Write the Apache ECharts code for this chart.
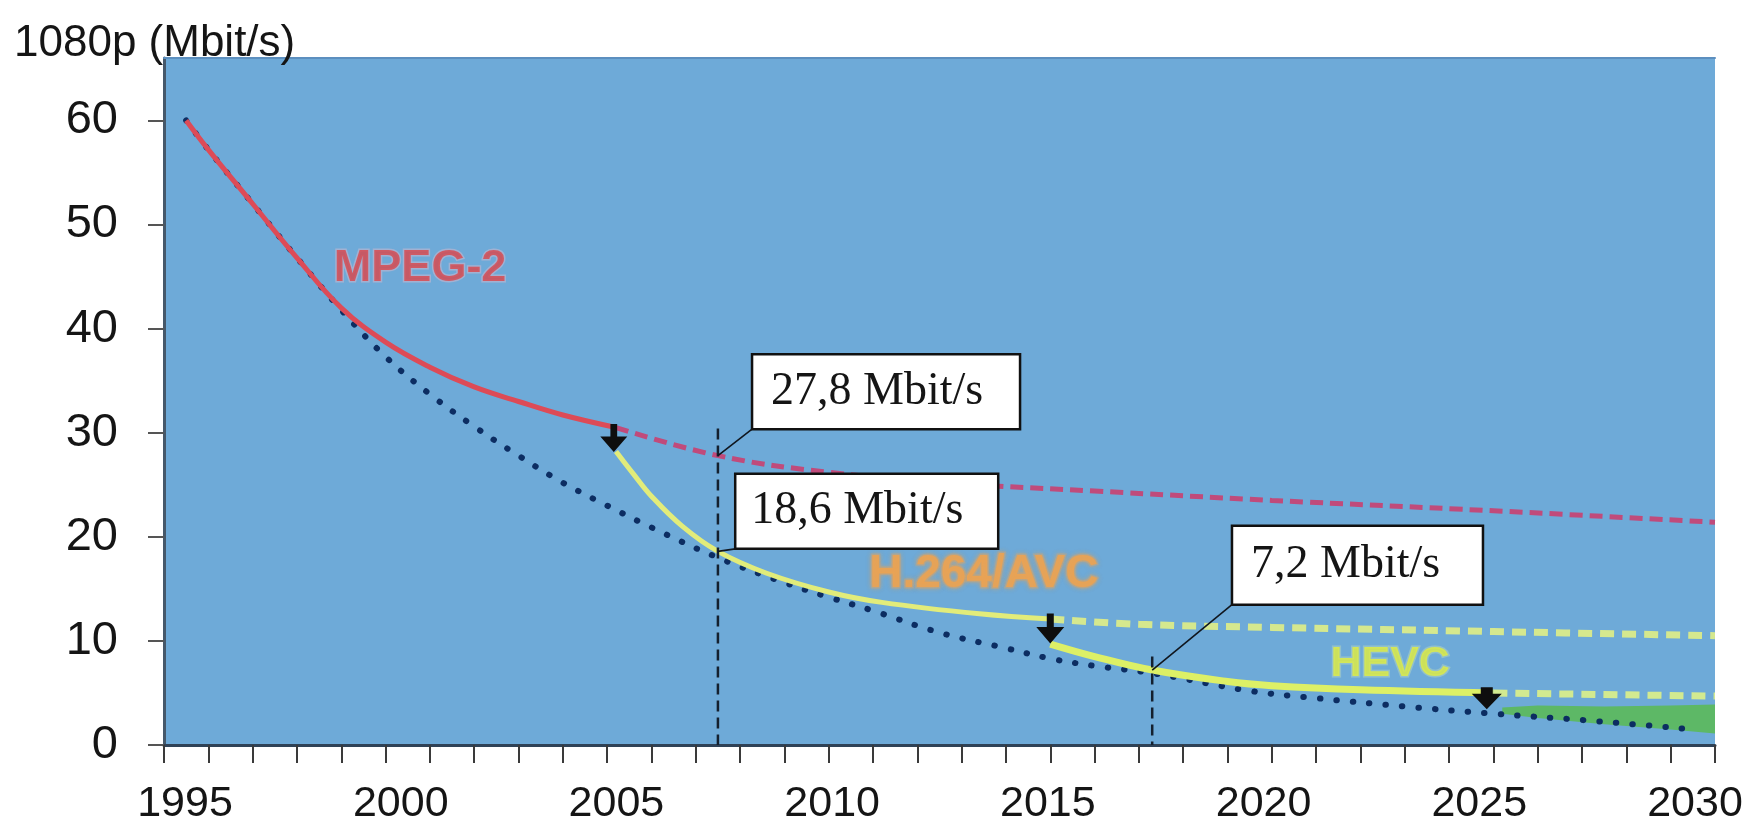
<!DOCTYPE html>
<html>
<head>
<meta charset="utf-8">
<script src="https://cdn.jsdelivr.net/npm/echarts@6/dist/echarts.min.js"></script>
<style>
  html, body { margin: 0; padding: 0; background: #ffffff; }
  #chart { width: 1748px; height: 826px; }
</style>
</head>
<body>
<div id="chart"></div>
<script>
// ---- Bitrate needed for 1080p video, Mbit/s ----
const yTicks = [0, 10, 20, 30, 40, 50, 60];
const xTicks = [1995, 2000, 2005, 2010, 2015, 2020, 2025, 2030];

// MPEG-2: measured part and its extrapolation
const mpeg2Years = [1995.5, 1996, 1997, 1998, 1999, 2000, 2001, 2002, 2003, 2004, 2005.2];
const mpeg2Rate  = [60.0, 57.2, 52.0, 46.8, 42.0, 38.7, 36.3, 34.4, 33.0, 31.7, 30.5];
const mpeg2FutureYears = [2005.2, 2007.5, 2010, 2013, 2016, 2020, 2025, 2030];
const mpeg2FutureRate  = [30.5, 27.8, 26.2, 25.1, 24.4, 23.5, 22.5, 21.4];

// H.264/AVC
const avcYears = [2005.2, 2005.6, 2006, 2006.7, 2007.5, 2008.6, 2010, 2011.2, 2013.4, 2015];
const avcRate  = [28.2, 26.0, 23.9, 21.0, 18.6, 16.5, 14.7, 13.7, 12.6, 12.1];
const avcFutureYears = [2015, 2017, 2020, 2025, 2030];
const avcFutureRate  = [12.1, 11.6, 11.3, 10.9, 10.5];

// HEVC
const hevcYears = [2015, 2016, 2017.3, 2019, 2020, 2022, 2025];
const hevcRate  = [9.7, 8.5, 7.2, 6.1, 5.7, 5.3, 5.0];
const hevcFutureYears = [2025, 2030];
const hevcFutureRate  = [5.0, 4.7];

// next generation band (lower and upper edge)
const nextYears = [2025.2, 2026, 2027.5, 2029, 2030];
const nextLow   = [3.0, 2.6, 2.0, 1.5, 1.1];
const nextHigh  = [3.6, 3.8, 3.7, 3.8, 3.9];

// overall efficiency trend (dotted)
const trendYears = [1995.5, 1996, 1997, 1998, 1999, 2000, 2001, 2002, 2003, 2004, 2005, 2006,
                    2007.5, 2009, 2010, 2011, 2012.5, 2014, 2015, 2016, 2017.3, 2019.5, 2021,
                    2023, 2025, 2027, 2029.5];
const trendRate  = [60.0, 57.2, 52.0, 46.8, 41.8, 37.3, 33.7, 30.6, 27.8, 25.2, 23.0, 20.9,
                    18.0, 15.6, 14.2, 12.9, 10.8, 9.3, 8.3, 7.6, 6.9, 5.2, 4.5,
                    3.7, 3.0, 2.4, 1.5];

// codec switch-over arrows
const arrowYears = [2005.15, 2015.0, 2024.85];
const arrowRate  = [29.5, 11.2, 4.5];

// vertical guides
const guideYears = [2007.5, 2017.3];
const guideTop   = [30.4, 8.5];

// callouts
const calloutYears  = [2007.5, 2007.5, 2017.3];
const calloutRate   = [27.8, 18.6, 7.2];
const calloutTexts  = ['27,8 Mbit/s', '18,6 Mbit/s', '7,2 Mbit/s'];

// codec names
const codecNames = ['MPEG-2', 'H.264/AVC', 'HEVC'];

// ---- layout / styling ----
const SANS = '"Liberation Sans", Arial, sans-serif';
const SERIF = '"Liberation Serif", "Times New Roman", serif';
const calloutBoxes = [
  { year: 2008.27, value: 37.55, w: 268, h: 75, pad: 19 },
  { year: 2007.89, value: 26.05, w: 263, h: 75, pad: 16 },
  { year: 2019.10, value: 21.07, w: 251, h: 79, pad: 19 }
];
const codecLabelPos = [
  { year: 2000.78, value: 45.8, color: '#DC4549', size: 45, border: 'rgba(255,190,200,0.45)', blur: 0 },
  { year: 2013.50, value: 16.4, color: '#F0A24E', size: 46, border: 'rgba(240,170,90,0.35)', blur: 5 },
  { year: 2022.67, value: 7.8, color: '#E4EF3C', size: 43, border: 'rgba(240,250,170,0.35)', blur: 0 }
];
const arrowShapes = [
  { symbol: 'path://M7.5,0H12.5V9H20L10,20L0,9H7.5Z', size: [27, 28] },
  { symbol: 'path://M7.5,0H12.5V9H20L10,20L0,9H7.5Z', size: [28, 30] },
  { symbol: 'path://M6,0H14V6H20L10,20L0,6H6Z', size: [30, 22] }
];
// the year labels sit on a slightly wider scale than the tick marks
const labelAxisRange = [1994.513, 2030.464];

function pairs(xs, ys) { return xs.map((x, i) => [x, ys[i]]); }

const chart = echarts.init(document.getElementById('chart'), null, { renderer: 'canvas' });

const curve = (name, xs, ys, style, z) => ({
  name, type: 'line', data: pairs(xs, ys), showSymbol: false, symbol: 'none',
  smooth: 0.4, lineStyle: style, z: z || 2, silent: true
});

const option = {
  animation: false,
  backgroundColor: '#ffffff',
  title: {
    text: '1080p (Mbit/s)', left: 9, top: 17,
    textStyle: { fontFamily: SANS, fontSize: 44, fontWeight: 'normal', color: '#151515' }
  },
  grid: {
    left: 164, right: 33, top: 58, bottom: 77, show: true,
    backgroundColor: '#6EAAD8', borderWidth: 0
  },
  xAxis: [{
    type: 'value', min: 1995, max: 2030, interval: 5,
    axisLine: { show: true, onZero: false, lineStyle: { color: '#2F4257', width: 3 } },
    axisTick: { show: true, length: 18, lineStyle: { color: '#3A3A3A', width: 2 } },
    minorTick: { show: true, splitNumber: 5, length: 18, lineStyle: { color: '#3A3A3A', width: 2 } },
    axisLabel: { show: false },
    splitLine: { show: false }
  }, {
    type: 'value', min: 1995, max: 2030, position: 'top',
    axisLine: { show: true, onZero: false, lineStyle: { color: '#5C8FBF', width: 2 } },
    axisTick: { show: false }, axisLabel: { show: false }, splitLine: { show: false }
  }, {
    type: 'value', min: labelAxisRange[0], max: labelAxisRange[1], position: 'bottom',
    axisLine: { show: false }, axisTick: { show: false }, splitLine: { show: false },
    axisLabel: {
      fontFamily: SANS, fontSize: 43, color: '#151515', margin: 38,
      customValues: xTicks, formatter: v => String(v)
    }
  }],
  yAxis: {
    type: 'value', min: 0, max: 66, interval: 10,
    axisLine: { show: true, onZero: false, lineStyle: { color: '#46586A', width: 3 } },
    axisTick: { show: true, length: 16, customValues: yTicks, lineStyle: { color: '#555', width: 2 } },
    axisLabel: { fontFamily: SANS, fontSize: 47, color: '#151515', margin: 46, customValues: yTicks },
    splitLine: { show: false }
  },
  series: [
    // next generation band
    {
      name: 'next', type: 'custom', z: 2, silent: true,
      data: pairs(nextYears, nextHigh),
      renderItem(params, api) {
        if (params.dataIndex !== 0) return null;
        const top = nextYears.map((y, i) => api.coord([y, nextHigh[i]]));
        const bottom = nextYears.map((y, i) => api.coord([y, nextLow[i]])).reverse();
        return {
          type: 'polygon',
          shape: { points: top.concat(bottom) },
          style: { fill: '#5DB866' }
        };
      }
    },
    curve('trend', trendYears, trendRate,
      { color: '#0C2D62', width: 6, type: [0.5, 16], cap: 'round' }, 3),
    curve('MPEG-2 trend', mpeg2FutureYears, mpeg2FutureRate,
      { color: '#C04B7B', width: 5, type: [13, 7] }, 4),
    curve('MPEG-2', mpeg2Years, mpeg2Rate,
      { color: '#DD4B57', width: 5 }, 4),
    curve('H.264/AVC trend', avcFutureYears, avcFutureRate,
      { color: '#D5E88E', width: 7, type: [14, 8] }, 4),
    curve('H.264/AVC', avcYears, avcRate,
      { color: '#E2EC7A', width: 5 }, 5),
    curve('HEVC trend', hevcFutureYears, hevcFutureRate,
      { color: '#D2EA90', width: 7, type: [14, 8] }, 4),
    curve('HEVC', hevcYears, hevcRate,
      { color: '#DDF066', width: 7 }, 5),
    // vertical guides
    {
      name: 'guides', type: 'custom', z: 6, silent: true,
      data: pairs(guideYears, guideTop),
      renderItem(params, api) {
        const top = api.coord([api.value(0), api.value(1)]);
        const bottom = api.coord([api.value(0), 0]);
        return {
          type: 'line',
          shape: { x1: top[0], y1: top[1], x2: bottom[0], y2: bottom[1] },
          style: { stroke: '#14202E', lineWidth: 2.5, lineDash: [11, 6] }
        };
      }
    },
    // switch-over arrows
    {
      name: 'arrows', type: 'scatter', z: 7, silent: true,
      data: arrowYears.map((y, i) => ({
        value: [y, arrowRate[i]],
        symbol: arrowShapes[i].symbol, symbolSize: arrowShapes[i].size
      })),
      symbolKeepAspect: false,
      itemStyle: { color: '#0E0E0E', opacity: 1 }
    },
    // codec names
    {
      name: 'codecs', type: 'scatter', z: 8, silent: true,
      symbolSize: 1, itemStyle: { color: 'rgba(0,0,0,0)' },
      data: codecNames.map((n, i) => ({
        value: [codecLabelPos[i].year, codecLabelPos[i].value],
        label: {
          show: true, position: 'inside', formatter: n,
          fontFamily: SANS, fontWeight: 'bold', fontSize: codecLabelPos[i].size,
          color: codecLabelPos[i].color,
          textBorderColor: codecLabelPos[i].border, textBorderWidth: 3,
          textShadowColor: codecLabelPos[i].blur ? 'rgba(240,160,70,0.9)' : 'transparent',
          textShadowBlur: codecLabelPos[i].blur
        }
      }))
    },
    // value callouts
    {
      name: 'callouts', type: 'custom', z: 10, silent: true,
      data: pairs(calloutYears, calloutRate),
      renderItem(params, api) {
        const i = params.dataIndex;
        const pt = api.coord([api.value(0), api.value(1)]);
        const box = calloutBoxes[i];
        const c = api.coord([box.year, box.value]);
        return {
          type: 'group',
          children: [
            {
              type: 'line',
              shape: { x1: pt[0], y1: pt[1], x2: c[0], y2: c[1] + box.h },
              style: { stroke: '#10161E', lineWidth: 1.6 }
            },
            {
              type: 'rect',
              shape: { x: c[0], y: c[1], width: box.w, height: box.h },
              style: { fill: '#FFFFFF', stroke: '#111111', lineWidth: 2.5 }
            },
            {
              type: 'text', x: c[0] + box.pad, y: c[1] + box.h / 2,
              style: {
                text: calloutTexts[i], fontFamily: SERIF, fontSize: 46, fill: '#151515',
                align: 'left', verticalAlign: 'middle'
              }
            }
          ]
        };
      }
    }
  ]
};

chart.setOption(option);
</script>
</body>
</html>
